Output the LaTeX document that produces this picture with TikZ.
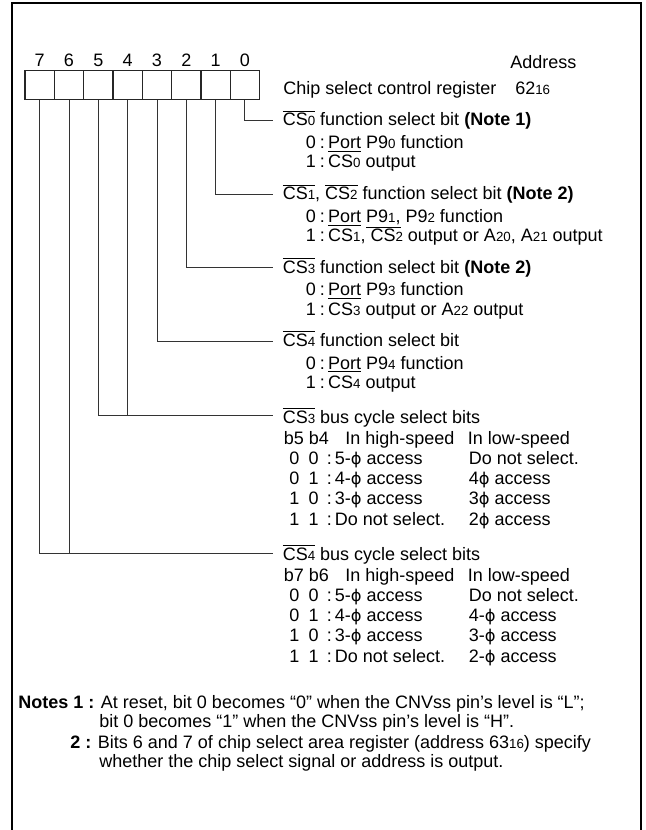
\documentclass[tikz,border=0pt]{standalone}
\usepackage{fontspec}
\setmainfont{Liberation Sans}
\newfontfamily\djv{DejaVu Sans}
\newcommand\sbs[1]{{\fontsize{10}{10}\selectfont #1}}
\newcommand\ovl[1]{\ensuremath{\overline{\hbox{#1}}}}
\newcommand\ph{{\djv\fontsize{12.2}{12}\selectfont ϕ}}
\begin{document}
\begin{tikzpicture}[x=0.75pt,y=-0.75pt,
  txt/.style={anchor=base west,inner sep=0pt,font=\fontsize{13.5}{15}\selectfont},
  bitnum/.style={anchor=base,inner sep=0pt,font=\fontsize{13.5}{15}\selectfont},
  cell/.style={draw=black!85,line width=0.9pt,minimum width=22pt,minimum height=22.1pt,inner sep=0pt},
  leader/.style={draw=black!80,line width=0.75pt},
  frame/.style={draw=black,line width=1.6pt}]
\useasboundingbox (0,0) rectangle (645,830);
\draw[frame] (12,840) -- (12,3) -- (641,3) -- (641,840);
% register cells
\foreach \i/\cx in {7/39.7,6/69,5/98.3,4/127.6,3/157,2/186.3,1/215.6,0/244.9}{
  \node[cell] (c\i) at (\cx,85) {};
  \node[bitnum] (n\i) at (\cx,67) {\i};
}
\node[txt] (addr) at (510,69) {Address};
\node[txt] (title) at (283,95) {Chip select control register};
\node[txt] (addrv) at (515,95) {62\sbs{16}};
% leader end points
\coordinate (e0) at (273,121);
\coordinate (e1) at (273,195);
\coordinate (e2) at (273,268);
\coordinate (e3) at (273,341);
\coordinate (e45) at (273,415);
\coordinate (e67) at (273,553);
\draw[leader] (c0.south) |- (e0);
\draw[leader] (c1.south) |- (e1);
\draw[leader] (c2.south) |- (e2);
\draw[leader] (c3.south) |- (e3);
\draw[leader] (c5.south) |- (e45);
\draw[leader] (c4.south) -- (c4.south |- e45);
\draw[leader] (c7.south) |- (e67);
\draw[leader] (c6.south) -- (c6.south |- e67);
% bit 0
\node[txt] (h0) at (282.5,126) {\ovl{CS\sbs{0}} function select bit \textbf{(Note 1)}};
\node[txt] (a0v) at (305.5,149) {0};
\node[txt] (a0t) at (319.5,149) {:\kern2.5pt\underline{Port} P9\sbs{0} function};
\node[txt] (b0v) at (305.5,168) {1};
\node[txt] (b0t) at (319.5,168) {:\kern2.5pt CS\sbs{0} output};
% bit 1
\node[txt] (h1) at (282.5,200) {\ovl{CS\sbs{1}}, \ovl{CS\sbs{2}} function select bit \textbf{(Note 2)}};
\node[txt] (a1v) at (305.5,223) {0};
\node[txt] (a1t) at (319.5,223) {:\kern2.5pt\underline{Port} \underline{P9\sbs{1},} P9\sbs{2} function};
\node[txt] (b1v) at (305.5,242) {1};
\node[txt] (b1t) at (319.5,242) {:\kern2.5pt CS\sbs{1}, CS\sbs{2} output or A\sbs{20}, A\sbs{21} output};
% bit 2
\node[txt] (h2) at (282.5,273) {\ovl{CS\sbs{3}} function select bit \textbf{(Note 2)}};
\node[txt] (a2v) at (305.5,296) {0};
\node[txt] (a2t) at (319.5,296) {:\kern2.5pt\underline{Port} P9\sbs{3} function};
\node[txt] (b2v) at (305.5,315) {1};
\node[txt] (b2t) at (319.5,315) {:\kern2.5pt CS\sbs{3} output or A\sbs{22} output};
% bit 3
\node[txt] (h3) at (282.5,346) {\ovl{CS\sbs{4}} function select bit};
\node[txt] (a3v) at (305.5,369) {0};
\node[txt] (a3t) at (319.5,369) {:\kern2.5pt\underline{Port} P9\sbs{4} function};
\node[txt] (b3v) at (305.5,388) {1};
\node[txt] (b3t) at (319.5,388) {:\kern2.5pt CS\sbs{4} output};
% bits 5,4
\node[txt] (h45) at (282.5,423) {\ovl{CS\sbs{3}} bus cycle select bits};
\node[txt] (k45) at (283.5,444) {b5 b4};
\node[txt] (hs45) at (345,444) {In high-speed};
\node[txt] (ls45) at (467.6,444) {In low-speed};
\foreach \r/\p/\q/\hs/\ls in {1/0/0/5-\ph\ access/Do not select.,2/0/1/4-\ph\ access/4\ph\ access,3/1/0/3-\ph\ access/3\ph\ access,4/1/1/Do not select./2\ph\ access}{
  \node[txt] (r45p\r) at (289,444+20.3*\r) {\p};
  \node[txt] (r45q\r) at (308.3,444+20.3*\r) {\q};
  \node[txt] (r45h\r) at (326.5,444+20.3*\r) {:\kern2.4pt\hs};
  \node[txt] (r45l\r) at (468.6,444+20.3*\r) {\ls};
}
% bits 7,6
\node[txt] (h67) at (282.5,560) {\ovl{CS\sbs{4}} bus cycle select bits};
\node[txt] (k67) at (283.5,581) {b7 b6};
\node[txt] (hs67) at (345,581) {In high-speed};
\node[txt] (ls67) at (467.6,581) {In low-speed};
\foreach \r/\p/\q/\hs/\ls in {1/0/0/5-\ph\ access/Do not select.,2/0/1/4-\ph\ access/4-\ph\ access,3/1/0/3-\ph\ access/3-\ph\ access,4/1/1/Do not select./2-\ph\ access}{
  \node[txt] (r67p\r) at (289,581+20.3*\r) {\p};
  \node[txt] (r67q\r) at (308.3,581+20.3*\r) {\q};
  \node[txt] (r67h\r) at (326.5,581+20.3*\r) {:\kern2.4pt\hs};
  \node[txt] (r67l\r) at (468.6,581+20.3*\r) {\ls};
}
% notes
\node[txt] (note1) at (18,708) {\textbf{Notes 1 :} At reset, bit 0 becomes “0” when the CNVss pin’s level is “L”;};
\node[txt] (note1b) at (99,727) {bit 0 becomes “1” when the CNVss pin’s level is “H”.};
\node[txt] (note2) at (70,748) {\textbf{2 :} Bits 6 and 7 of chip select area register (address 63\sbs{16}) specify};
\node[txt] (note2b) at (99,767) {whether the chip select signal or address is output.};
\end{tikzpicture}
\end{document}
